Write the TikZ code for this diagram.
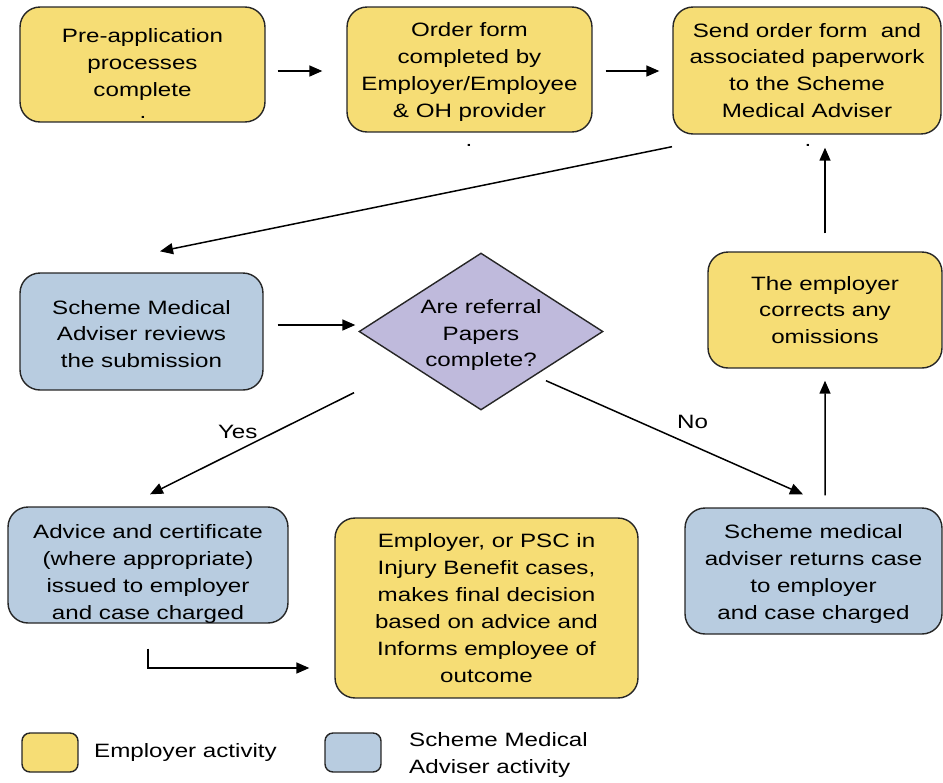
\documentclass[tikz,border=0pt]{standalone}
\usepackage{fontspec}
\setmainfont[FakeStretch=1.25]{Liberation Sans}
\usetikzlibrary{shapes.geometric,arrows.meta}
\definecolor{empyellow}{RGB}{246,221,117}
\definecolor{smablue}{RGB}{184,204,224}
\definecolor{qpurple}{RGB}{191,186,220}
\tikzset{
  box/.style={draw=black!85, line width=0.8pt, rounded corners=0.4cm, align=center, inner sep=0pt},
  empbox/.style={box, fill=empyellow},
  smabox/.style={box, fill=smablue},
  arr/.style={-{Triangle[length=0.26cm,width=0.22cm]}, line width=0.85pt},
}
\begin{document}
\begin{tikzpicture}[x=0.02cm,y=-0.02cm,font=\fontsize{11}{15.3}\selectfont]
  \useasboundingbox (0,0) rectangle (943,782);
  % top row
  \node[empbox, minimum width=4.9cm, minimum height=2.3cm] (preapp) at (142.5,64.5) {Pre-application\\processes\\complete};
  \node[empbox, minimum width=4.9cm, minimum height=2.5cm] (orderform) at (469.5,69.5) {};
  \node[align=center] (orderformtext) at (469.5,72) {Order form\\completed by\\Employer/Employee\\\& OH provider};
  \node[empbox, minimum width=5.36cm, minimum height=2.54cm] (sendform) at (807,70.5) {Send order form\ \ and\\associated paperwork\\to the Scheme\\Medical Adviser};
  \foreach \dx/\dy [count=\i] in {143/117,469/145,808/145} {\node[inner sep=0pt] (dot\i) at (\dx,\dy) {.}; }
  % middle row
  \node[smabox, minimum width=4.86cm, minimum height=2.34cm] (review) at (141.5,331.5) {};
  \node[align=center] (reviewtext) at (141.5,334) {Scheme Medical\\Adviser reviews\\the submission};
  \node[draw=black!85, line width=0.8pt, fill=qpurple, shape=diamond, minimum width=4.88cm, minimum height=3.14cm, inner sep=0pt] (check) at (481,331.5) {};
  \node[align=center] (checktext) at (481,335) {Are referral\\Papers\\complete?};
  \node[empbox, minimum width=4.68cm, minimum height=2.32cm] (corrects) at (825,310) {The employer\\corrects any\\omissions};
  % bottom row
  \node[smabox, minimum width=5.6cm, minimum height=2.32cm] (advice) at (148,565) {};
  \node[align=center] (advicetext) at (148,574) {Advice and certificate\\(where appropriate)\\issued to employer\\and case charged};
  \node[empbox, minimum width=6.06cm, minimum height=3.6cm] (decision) at (486.5,608) {Employer, or PSC in\\Injury Benefit cases,\\makes final decision\\based on advice and\\Informs employee of\\outcome};
  \node[smabox, minimum width=5.14cm, minimum height=2.52cm] (returns) at (813.5,571) {};
  \node[align=center] (returnstext) at (813.5,574) {Scheme medical\\adviser returns case\\to employer\\and case charged};
  % connectors
  \draw[arr] ([shift={(12,6.5)}]preapp.east) -- ([shift={(-24,1.5)}]orderform.west);
  \draw[arr] ([shift={(13,1.5)}]orderform.east) -- ([shift={(-13,0.5)}]sendform.west);
  \draw[arr] ([shift={(-135,12)}]sendform.south) -- ([shift={(18.5,-21)}]review.north);
  \draw[arr] ([shift={(14,-6.5)}]review.east) -- ([shift={(-3,-6.5)}]check.west);
  \draw[arr] ([shift={(-127,-18)}]check.south) -- node[pos=0.57, above=3pt] (yes) {Yes} ([shift={(2,-12)}]advice.north);
  \draw[arr] ([shift={(65,-30)}]check.south) -- node[pos=0.57, above=6pt] (no) {No} ([shift={(-10.5,-13)}]returns.north);
  \draw[arr] ([shift={(11.5,-12)}]returns.north) -- ([shift={(0,12)}]corrects.south);
  \draw[arr] ([shift={(0,-18)}]corrects.north) -- ([shift={(18,13)}]sendform.south);
  \draw[arr] ([shift={(0,25)}]advice.south) |- ([shift={(-25,60)}]decision.west);
  % key
  \node[empbox, rounded corners=0.16cm, minimum width=1.12cm, minimum height=0.78cm] (keyemp) at (50,752.5) {};
  \node[anchor=west] (keyemptext) at (88,752) {Employer activity};
  \node[smabox, rounded corners=0.16cm, minimum width=1.12cm, minimum height=0.78cm] (keysma) at (353,752.5) {};
  \node[anchor=west, align=left] (keysmatext) at (403,755) {Scheme Medical\\Adviser activity};
\end{tikzpicture}
\end{document}
